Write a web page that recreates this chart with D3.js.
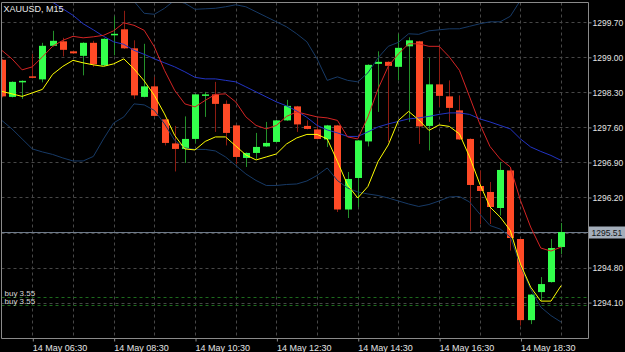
<!DOCTYPE html>
<html><head><meta charset="utf-8">
<script src="https://cdn.jsdelivr.net/npm/d3@7"></script>
<style>html,body{margin:0;padding:0;background:#000;overflow:hidden}svg{display:block}</style>
</head><body><svg id="c" width="625" height="352"></svg>
<script>
const symbolTitle = "XAUUSD, M15";
// OHLC, 15-minute bars starting 14 May 05:45
const opens  = [1298.95,1298.21,1298.50,1298.62,1298.56,1299.23,1299.32,1299.12,1299.03,1299.29,1298.84,1299.44,1299.56,1299.18,1298.21,1298.42,1297.76,1297.28,1297.17,1297.37,1298.23,1298.26,1298.07,1297.64,1296.99,1297.09,1297.22,1297.31,1297.74,1298.02,1297.63,1297.56,1297.36,1297.64,1295.96,1296.59,1297.32,1298.87,1298.91,1298.81,1299.22,1299.32,1297.63,1298.46,1298.22,1297.94,1297.37,1296.43,1296.31,1295.99,1296.74,1295.37,1293.75,1294.31,1294.51,1295.21];
const highs  = [1298.97,1298.52,1298.54,1299.07,1299.29,1299.53,1299.39,1299.13,1299.30,1299.33,1299.38,1299.82,1299.93,1299.34,1299.27,1298.61,1297.77,1297.63,1297.82,1298.27,1298.31,1298.51,1298.14,1297.65,1297.10,1297.49,1297.71,1297.75,1298.15,1298.03,1297.74,1297.77,1297.65,1297.65,1296.71,1297.35,1298.86,1299.12,1298.92,1299.47,1299.40,1299.33,1298.99,1299.21,1298.54,1298.24,1297.38,1296.74,1296.51,1296.91,1296.80,1295.38,1294.27,1294.61,1295.37,1295.69];
const lows   = [1298.20,1298.20,1298.17,1298.58,1298.50,1299.22,1299.02,1299.07,1298.64,1298.81,1298.83,1299.04,1299.17,1298.17,1298.20,1297.82,1297.24,1296.72,1296.89,1297.28,1297.81,1297.51,1297.24,1296.87,1296.81,1296.97,1297.21,1297.30,1297.73,1297.51,1297.56,1297.36,1297.21,1295.91,1295.79,1296.01,1297.22,1297.91,1297.31,1298.54,1297.71,1297.27,1297.14,1298.01,1297.71,1297.35,1295.53,1295.67,1295.67,1295.84,1295.14,1293.64,1293.67,1294.14,1294.50,1295.07];
const closes = [1298.22,1298.51,1298.53,1298.59,1299.23,1299.33,1299.15,1299.08,1299.29,1298.86,1299.37,1299.47,1299.18,1298.24,1298.42,1297.83,1297.29,1297.17,1297.37,1298.26,1298.26,1298.07,1297.49,1297.01,1297.09,1297.21,1297.29,1297.74,1298.03,1297.66,1297.57,1297.37,1297.64,1295.96,1296.57,1297.34,1298.85,1298.91,1298.83,1299.19,1299.34,1297.62,1298.46,1298.23,1297.99,1297.36,1296.45,1296.33,1296.01,1296.75,1295.39,1293.75,1294.26,1294.47,1295.19,1295.51];
// indicator lines
const maFast = [1298.32,1298.27,1298.22,1298.29,1298.36,1298.66,1298.82,1298.94,1298.89,1298.85,1298.82,1298.87,1298.97,1298.77,1298.53,1298.24,1297.87,1297.44,1297.17,1297.15,1297.32,1297.41,1297.41,1297.23,1297.05,1296.95,1297.01,1297.07,1297.27,1297.39,1297.46,1297.46,1297.37,1296.92,1296.45,1296.19,1296.42,1296.92,1297.25,1297.74,1297.92,1297.75,1297.54,1297.65,1297.62,1297.47,1297.01,1296.47,1296.01,1295.81,1295.54,1294.87,1294.41,1294.13,1294.13,1294.44];
const maSlow = [1299.14,1298.97,1298.75,1298.81,1299.01,1299.22,1299.34,1299.42,1299.39,1299.41,1299.44,1299.53,1299.69,1299.64,1299.54,1299.21,1298.74,1298.34,1298.07,1298.01,1298.14,1298.26,1298.27,1298.11,1297.81,1297.64,1297.57,1297.64,1297.82,1297.91,1297.86,1297.81,1297.79,1297.74,1297.41,1297.37,1297.81,1298.37,1298.82,1299.07,1299.27,1299.27,1299.22,1299.22,1299.01,1298.74,1298.21,1297.67,1297.22,1296.97,1296.81,1296.14,1295.61,1295.19,1295.13,1295.21];
const bbUpper = [1300.90,1300.95,1301.00,1301.00,1300.95,1300.90,1300.80,1300.70,1300.60,1300.50,1300.40,1300.30,1300.22,1300.12,1299.88,1299.86,1299.98,1300.14,1300.08,1299.96,1299.97,1299.98,1300.01,1300.05,1300.01,1299.91,1299.81,1299.71,1299.61,1299.47,1299.31,1298.97,1298.54,1298.61,1298.54,1298.51,1298.69,1298.99,1299.22,1299.30,1299.47,1299.46,1299.53,1299.55,1299.57,1299.57,1299.62,1299.67,1299.71,1299.71,1299.82,1300.14,1300.45,1300.70,1300.90,1301.10];
const bbMiddle = [1300.45,1300.40,1300.33,1300.26,1300.19,1300.10,1299.97,1299.84,1299.67,1299.55,1299.42,1299.31,1299.26,1299.14,1299.06,1298.97,1298.89,1298.81,1298.71,1298.60,1298.57,1298.57,1298.54,1298.51,1298.41,1298.31,1298.21,1298.11,1298.03,1297.93,1297.80,1297.64,1297.55,1297.49,1297.42,1297.42,1297.51,1297.61,1297.67,1297.72,1297.77,1297.79,1297.82,1297.86,1297.89,1297.89,1297.86,1297.77,1297.71,1297.64,1297.57,1297.37,1297.21,1297.12,1297.04,1296.94];
const bbLower = [1297.74,1297.57,1297.37,1297.17,1297.11,1297.06,1296.99,1296.93,1296.93,1297.02,1297.37,1297.69,1297.81,1298.07,1298.05,1297.94,1297.67,1297.34,1297.19,1297.16,1297.16,1297.13,1297.01,1296.84,1296.67,1296.54,1296.44,1296.44,1296.46,1296.47,1296.53,1296.64,1296.79,1296.54,1296.39,1296.31,1296.27,1296.24,1296.19,1296.13,1296.07,1296.02,1296.06,1296.13,1296.21,1296.22,1296.11,1295.87,1295.64,1295.57,1295.41,1294.84,1294.37,1294.01,1293.84,1293.71];
const priceTicks = [1294.10,1294.80,1296.20,1296.90,1297.60,1298.30,1299.00,1299.70];
const gridPrices = [1294.10,1294.80,1295.50,1296.20,1296.90,1297.60,1298.30,1299.00,1299.70];
const bidPrice = 1295.51;
const orderPrices = [1294.21,1294.06];
const orderLabels = ["buy 3.55","buy 3.55"];
const timeLabelHours = ["06:30","08:30","10:30","12:30","14:30","16:30","18:30"];
const gridHours = ["06:30","07:30","08:30","09:30","10:30","11:30","12:30","13:30","14:30","15:30","16:30","17:30","18:30","19:30"];
const barMinutes = 15;
const firstBar = new Date(Date.UTC(2019,4,14,5,45));

const svg = d3.select("#c");
const W = 625, H = 352;
const L = 1.5, R = 588.5, T = 2.5, B = 338.5;
const font = "'Liberation Sans', Arial, sans-serif";
svg.append("rect").attr("width",W).attr("height",H).attr("fill","#000");

const times = closes.map((_,i)=> new Date(firstBar.getTime() + i*barMinutes*60000));
const hm = s => { const [h,m] = s.split(":").map(Number); return new Date(Date.UTC(2019,4,14,h,m)); };

const x = d3.scaleUtc().domain([times[0], times[times.length-1]]).range([1.8, 561.15]);
const y = d3.scaleLinear().domain([1294.10, 1299.70]).range([302.6, 22.3]);

const defs = svg.append("defs");
defs.append("clipPath").attr("id","clip").append("rect")
  .attr("x",L+0.5).attr("y",T+0.5).attr("width",R-L-1).attr("height",B-T-1);
const plot = svg.append("g").attr("clip-path","url(#clip)");

// grid
const gridColor = "#474747";
plot.selectAll(".hg").data(gridPrices).enter().append("line")
  .attr("x1",L).attr("x2",R).attr("y1",d=>Math.round(y(d))+0.5).attr("y2",d=>Math.round(y(d))+0.5)
  .attr("stroke",gridColor).attr("stroke-dasharray","3,3");
plot.selectAll(".vg").data(gridHours.map(hm)).enter().append("line")
  .attr("x1",d=>Math.round(x(d))+0.5).attr("x2",d=>Math.round(x(d))+0.5).attr("y1",T).attr("y2",B)
  .attr("stroke",gridColor).attr("stroke-dasharray","3,3");

// order lines
plot.selectAll(".ol").data(orderPrices).enter().append("line")
  .attr("x1",L).attr("x2",R).attr("y1",d=>Math.round(y(d))+0.5).attr("y2",d=>Math.round(y(d))+0.5)
  .attr("stroke","#1d6b1d").attr("stroke-dasharray","3,3");
plot.selectAll(".olt").data(orderPrices).enter().append("text")
  .attr("x",4.5).attr("y",d=>Math.round(y(d))-1.5)
  .attr("fill","#d8d8d8").attr("font-family",font).attr("font-size","8px")
  .text((d,i)=>orderLabels[i]);

// bid line
plot.append("line").attr("x1",L).attr("x2",R)
  .attr("y1",Math.round(y(bidPrice))+0.5).attr("y2",Math.round(y(bidPrice))+0.5)
  .attr("stroke","#6f7c8c");

// candles
const bars = closes.map((c,i)=>({t:times[i],o:opens[i],h:highs[i],l:lows[i],c:c}));
const bullBody="#33ff4c", bearBody="#ff4a26", bullWick="#24912a", bearWick="#8e1c12";
const cg = plot.append("g");
cg.selectAll(".wick").data(bars).enter().append("line")
  .attr("x1",d=>Math.round(x(d.t))+0.5).attr("x2",d=>Math.round(x(d.t))+0.5)
  .attr("y1",d=>y(d.h)).attr("y2",d=>y(d.l))
  .attr("stroke",d=>d.c>=d.o?bullWick:bearWick);
cg.selectAll(".body").data(bars).enter().append("rect")
  .attr("x",d=>Math.round(x(d.t))-3).attr("width",7)
  .attr("y",d=>y(Math.max(d.o,d.c)))
  .attr("height",d=>Math.max(1.5, Math.abs(y(d.o)-y(d.c))))
  .attr("fill",d=>d.c>=d.o?bullBody:bearBody);

// indicators
const lineGen = arr => d3.line().x((d,i)=>x(times[i])).y(d=>y(d))(arr);
const ind = [
  [bbUpper,"#173a66"],[bbLower,"#173a66"],[bbMiddle,"#2234c4"],
  [maSlow,"#d42424"],[maFast,"#ffff00"]
];
ind.forEach(([arr,col])=>{
  plot.append("path").attr("d",lineGen(arr)).attr("fill","none").attr("stroke",col).attr("stroke-width",1);
});

// border
svg.append("path").attr("d",`M${L},${B}V${T}H${R}V${B}H${L}`).attr("fill","none").attr("stroke","#8a8a8a");

// right axis
const ya = d3.axisRight(y).tickValues(priceTicks).tickSize(3).tickPadding(1).tickFormat(d3.format(".2f"));
const gy = svg.append("g").attr("transform",`translate(${R},0)`).call(ya);
gy.select(".domain").remove();
gy.selectAll("line").attr("stroke","#8a8a8a");
gy.selectAll("text").attr("fill","#e4e4e4").attr("font-family",font).attr("font-size","8.5px");

// bid label
const by = Math.round(y(bidPrice))+0.5;
svg.append("rect").attr("x",R+0.5).attr("y",by-6).attr("width",W-R).attr("height",12).attr("fill","#a4aebb");
svg.append("text").attr("x",R+3).attr("y",by+3).attr("fill","#101418")
  .attr("font-family",font).attr("font-size","8.5px").text(d3.format(".2f")(bidPrice));

// bottom axis
const xa = d3.axisBottom(x).tickValues(timeLabelHours.map(hm)).tickSize(3).tickPadding(1)
  .tickFormat(d3.utcFormat("%d %b %H:%M"));
const gx = svg.append("g").attr("transform",`translate(0,${B})`).call(xa);
gx.select(".domain").remove();
gx.selectAll("line").attr("stroke","#8a8a8a").attr("transform","translate(0.5,0)");
gx.selectAll("text").attr("fill","#e4e4e4").attr("font-family",font).attr("font-size","9px")
  .attr("text-anchor","start").attr("dy","0.95em");

// title
svg.append("text").attr("x",3.5).attr("y",12).attr("fill","#e8e8e8")
  .attr("font-family",font).attr("font-size","9px").text(symbolTitle);
</script></body></html>
